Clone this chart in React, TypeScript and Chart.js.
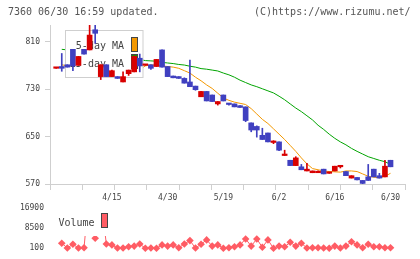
import React, { useEffect, useRef } from 'react';
import { Chart, registerables } from 'chart.js';

Chart.register(...registerables);

// Daily candles, 4/1 .. 6/30 (one entry per trading day)
const opens = [765, 768, 771, 797, 770, 797, 796, 830, 751, 771, 751, 751, 742, 756, 759, 782, 770, 771, 768, 796, 768, 752, 751, 748, 742, 735, 717, 726, 720, 705, 720, 706, 705, 702, 700, 673, 667, 652, 656, 640, 641, 618, 610, 601, 599, 592, 589, 589, 595, 588, 592, 599, 591, 580, 581, 576, 582, 595, 584, 582, 610];
const highs = [766, 790, 771, 797, 785, 797, 838, 838, 771, 771, 762, 751, 759, 762, 786, 789, 771, 771, 780, 796, 768, 752, 751, 749, 779, 735, 726, 726, 720, 709, 720, 706, 705, 702, 700, 673, 668, 664, 656, 643, 641, 627, 610, 616, 603, 605, 592, 592, 595, 590, 600, 600, 591, 584, 581, 576, 603, 595, 588, 610, 610];
const lows = [765, 760, 767, 761, 770, 789, 796, 807, 746, 751, 751, 748, 742, 753, 759, 759, 770, 763, 768, 767, 751, 749, 748, 740, 734, 728, 717, 710, 709, 703, 710, 703, 700, 699, 675, 658, 649, 645, 641, 638, 626, 618, 601, 601, 594, 592, 589, 589, 587, 588, 592, 597, 584, 580, 577, 570, 576, 582, 580, 582, 599];
const closes = [766, 765, 767, 769, 785, 789, 821, 824, 771, 751, 761, 748, 751, 762, 785, 769, 771, 765, 780, 767, 751, 749, 748, 740, 734, 729, 726, 710, 709, 709, 710, 704, 700, 699, 677, 661, 661, 645, 641, 642, 627, 620, 601, 614, 594, 595, 592, 591, 587, 590, 600, 600, 584, 584, 577, 571, 576, 582, 580, 600, 599];

// Moving averages
const ma5 = [null, 771, 769, 768, 771, 775, 786, 798, 800, 791, 786, 771, 757, 755, 761, 763, 769, 771, 770, 769, 768, 767, 765, 761, 757, 750, 744, 737, 731, 723, 715, 711, 708, 706, 704, 697, 688, 679, 672, 663, 654, 645, 635, 625, 614, 604, 596, 594, 592, 591, 590.5, 590, 592, 592, 591, 587, 583, 581.5, 580.5, 583, 588];
const ma25 = [null, 797, 796, 795, 795, 794, 793, 792, 791, 789, 788, 786, 785, 783, 781, 780, 778, 777.5, 777, 775, 774, 773, 771.5, 770.5, 768.5, 767, 764.5, 763.5, 762, 760.5, 757, 754, 750, 745, 741, 737, 734, 730.5, 727, 723.5, 718, 712, 705, 698, 692, 685, 678, 669, 662, 654, 647, 641, 636, 630, 625, 620.5, 616, 613, 610, 607.6, 603];

// Daily volume
const volumes = [null, 2100, 100, 1700, 100, 200, 26000, 4200, 21000, 1800, 1400, 100, 100, 600, 900, 1800, 0, 100, 0, 1400, 900, 1400, 200, 1800, 3200, 100, 1700, 3500, 900, 1400, 0, 200, 600, 1400, 3900, 900, 3900, 400, 3500, 0, 900, 600, 2500, 900, 2100, 100, 200, 200, 100, 0, 900, 100, 900, 2700, 1400, 200, 1700, 600, 600, 200, 200];

const dateLabels = ['4/15', '4/30', '5/19', '6/2', '6/16', '6/30'];
const dateLabelIndex = [10, 20, 30, 40, 50, 60];
const priceTicks = [570, 650, 730, 810];
const volumeTicks = [100, 8500, 16900];

const UP = '#d80000';
const DOWN = '#4040c0';
const MA5_COLOR = '#f39800';
const MA25_COLOR = '#00a400';
const VOL_COLOR = '#ff5c64';
const AXIS = '#cfcfcf';
const TEXT = '#444444';
const MONO = '"DejaVu Sans Mono", monospace';

const X_MIN = -1.11;
const X_MAX = 62.6;
const GRID_COUNT = 12;
const gridTicks = Array.from({ length: GRID_COUNT }, (_, k) => X_MIN + ((X_MAX - X_MIN) * k) / (GRID_COUNT - 1));

const candleColors = opens.map((o, i) => (closes[i] >= o ? UP : DOWN));

// Legend box for the moving averages: drawn after the MA lines, under the candles
const maLegend = {
  id: 'maLegend',
  afterDatasetDraw(chart: any, args: any) {
    if (args.index !== 2) return;
    const ctx = chart.ctx;
    ctx.save();
    ctx.fillStyle = '#ffffff';
    ctx.fillRect(65.5, 30.5, 77.5, 47);
    ctx.strokeStyle = AXIS;
    ctx.lineWidth = 1;
    ctx.strokeRect(65.5, 30.5, 77.5, 47);
    ctx.font = `10px ${MONO}`;
    ctx.fillStyle = TEXT;
    ctx.textAlign = 'right';
    ctx.textBaseline = 'alphabetic';
    ctx.fillText('5-day MA', 124, 49);
    ctx.fillText('25-day MA', 124, 66.5);
    ctx.strokeStyle = '#444444';
    ctx.fillStyle = MA5_COLOR;
    ctx.fillRect(131.5, 37.5, 6, 14);
    ctx.strokeRect(131.5, 37.5, 6, 14);
    ctx.fillStyle = MA25_COLOR;
    ctx.fillRect(131.5, 54.5, 6, 14);
    ctx.strokeRect(131.5, 54.5, 6, 14);
    ctx.restore();
  },
};

const volLegend = {
  id: 'volLegend',
  afterDatasetsDraw(chart: any) {
    const ctx = chart.ctx;
    ctx.save();
    ctx.fillStyle = '#ffffff';
    ctx.fillRect(53, 204, 60, 32);
    ctx.font = `10px ${MONO}`;
    ctx.fillStyle = TEXT;
    ctx.textAlign = 'right';
    ctx.textBaseline = 'alphabetic';
    ctx.fillText('Volume', 94.5, 226);
    ctx.fillStyle = VOL_COLOR;
    ctx.strokeStyle = '#444444';
    ctx.lineWidth = 1;
    ctx.fillRect(101.5, 213.5, 6, 14);
    ctx.strokeRect(101.5, 213.5, 6, 14);
    ctx.restore();
  },
};

const xScale = (showLabels: boolean) => ({
  type: 'linear',
  min: X_MIN,
  max: X_MAX,
  bounds: 'data',
  offset: false,
  display: showLabels,
  grid: {
    offset: false,
    drawOnChartArea: false,
    tickLength: 6,
    color: (c: any) => (c.index < GRID_COUNT ? AXIS : 'rgba(0,0,0,0)'),
  },
  border: { color: AXIS },
  ticks: {
    autoSkip: false,
    maxRotation: 0,
    padding: 3,
    color: TEXT,
    font: { family: MONO, size: 8 },
    callback: (_v: any, i: number) => (i >= GRID_COUNT ? dateLabels[i - GRID_COUNT] : ''),
  },
  afterBuildTicks: (s: any) => {
    s.ticks = [...gridTicks, ...dateLabelIndex].map((v) => ({ value: v }));
  },
  afterFit: (s: any) => {
    s.height = showLabels ? 20 : 0;
  },
});

export default function App() {
  const priceRef = useRef<HTMLCanvasElement>(null);
  const volRef = useRef<HTMLCanvasElement>(null);

  useEffect(() => {
    const price = new Chart(priceRef.current as HTMLCanvasElement, {
      type: 'bar',
      data: {
        datasets: [
          {
            label: 'body',
            data: opens.map((o, i) => ({ x: i, y: [o, closes[i]] })) as any,
            backgroundColor: candleColors,
            barThickness: 5,
            minBarLength: 1.5,
            grouped: false,
            order: 1,
          },
          {
            label: 'wick',
            data: lows.map((l, i) => ({ x: i, y: [l, highs[i]] })) as any,
            backgroundColor: candleColors,
            barThickness: 1,
            grouped: false,
            order: 2,
          },
          {
            type: 'line',
            label: '5-day MA',
            data: ma5.map((v, i) => ({ x: i, y: v })) as any,
            borderColor: MA5_COLOR,
            borderWidth: 1,
            pointRadius: 0,
            order: 3,
          },
          {
            type: 'line',
            label: '25-day MA',
            data: ma25.map((v, i) => ({ x: i, y: v })) as any,
            borderColor: MA25_COLOR,
            borderWidth: 1,
            pointRadius: 0,
            order: 4,
          },
        ] as any,
      },
      options: {
        responsive: false,
        animation: false,
        events: [],
        layout: { padding: { top: 25, right: 15, bottom: 55, left: 0 } },
        plugins: { legend: { display: false }, tooltip: { enabled: false } },
        scales: {
          x: xScale(true) as any,
          y: {
            type: 'linear',
            min: 570,
            max: 838,
            bounds: 'data',
            grid: { drawOnChartArea: false, tickLength: 5, color: AXIS },
            border: { color: AXIS },
            ticks: {
              padding: 5,
              color: TEXT,
              autoSkip: false,
              font: { family: MONO, size: 8 },
              callback: (v: any) => String(v),
            },
            afterBuildTicks: (s: any) => {
              s.ticks = priceTicks.map((v) => ({ value: v }));
            },
            afterFit: (s: any) => {
              s.width = 50;
            },
          },
        },
      },
      plugins: [maLegend],
    });

    const vol = new Chart(volRef.current as HTMLCanvasElement, {
      type: 'line',
      data: {
        datasets: [
          {
            label: 'Volume',
            data: volumes.map((v, i) => ({ x: i, y: v })) as any,
            borderColor: VOL_COLOR,
            backgroundColor: VOL_COLOR,
            borderWidth: 1,
            pointStyle: 'rectRot',
            pointRadius: 3.8,
            pointBorderWidth: 0,
            pointBackgroundColor: VOL_COLOR,
            clip: { left: 10, top: 0, right: 10, bottom: 10 } as any,
          },
        ],
      },
      options: {
        responsive: false,
        animation: false,
        events: [],
        layout: { padding: { top: 208, right: 15, bottom: 11, left: 0 } },
        plugins: { legend: { display: false }, tooltip: { enabled: false } },
        scales: {
          x: xScale(false) as any,
          y: {
            type: 'linear',
            min: 100,
            max: 16900,
            bounds: 'data',
            grid: { display: false, drawTicks: false },
            border: { display: false },
            ticks: {
              padding: 6,
              color: TEXT,
              autoSkip: false,
              font: { family: MONO, size: 8 },
              callback: (v: any) => String(v),
            },
            afterBuildTicks: (s: any) => {
              s.ticks = volumeTicks.map((v) => ({ value: v }));
            },
            afterFit: (s: any) => {
              s.width = 50;
            },
          },
        },
      },
      plugins: [volLegend],
    });

    return () => {
      price.destroy();
      vol.destroy();
    };
  }, []);

  const textStyle: React.CSSProperties = {
    position: 'absolute',
    fontFamily: MONO,
    fontSize: 10,
    lineHeight: '10px',
    color: '#555555',
    whiteSpace: 'pre',
  };

  return (
    <div style={{ position: 'fixed', left: 0, top: 0, width: 420, height: 259, background: '#ffffff', overflow: 'hidden' }}>
      <canvas ref={priceRef} width={420} height={259} style={{ position: 'absolute', left: 0, top: 0 }} />
      <canvas ref={volRef} width={420} height={259} style={{ position: 'absolute', left: 0, top: 0 }} />
      <div style={{ ...textStyle, left: 8, top: 7 }}>7360 06/30 16:59 updated.</div>
      <div style={{ ...textStyle, left: 254, top: 7 }}>(C)https://www.rizumu.net/</div>
    </div>
  );
}
